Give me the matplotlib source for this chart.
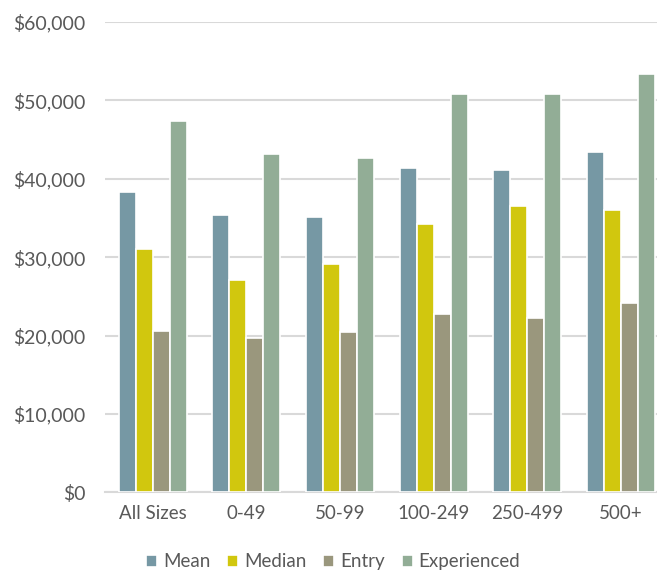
import matplotlib
matplotlib.use("Agg")
import matplotlib.pyplot as plt
import numpy as np
from matplotlib.ticker import FuncFormatter

categories = ["All Sizes", "0-49", "50-99", "100-249", "250-499", "500+"]
mean = [38300, 35400, 35100, 41400, 41100, 43400]
median = [31000, 27100, 29100, 34200, 36500, 36000]
entry = [20600, 19700, 20400, 22700, 22200, 24100]
experienced = [47400, 43200, 42700, 50800, 50800, 53400]

series = [("Mean", mean, "#7698A4"),
          ("Median", median, "#D1C70E"),
          ("Entry", entry, "#9A977D"),
          ("Experienced", experienced, "#92AD96")]

plt.rcParams['font.family'] = ['Lato', 'DejaVu Sans']

fig = plt.figure(figsize=(6.57, 5.71), dpi=100)
ax = fig.add_axes([0.16, 0.1378, 0.856, 0.8237])

x = np.arange(len(categories))
step = 0.182
for i, (name, vals, col) in enumerate(series):
    ax.bar(x + (i - 1.5) * step, vals, width=step, color=col,
           edgecolor="white", linewidth=1.2, label=name, zorder=3)

ax.set_ylim(0, 60000)
ax.set_xlim(-0.51, 5.5)
ax.set_yticks(np.arange(0, 60001, 10000))
ax.yaxis.set_major_formatter(FuncFormatter(lambda v, p: "${:,.0f}".format(v)))
ax.set_xticks(x)
ax.set_xticklabels(categories)
ax.grid(axis="y", color="#D9D9D9", linewidth=1.5, zorder=0)
for s in ["top", "right", "left"]:
    ax.spines[s].set_visible(False)
ax.spines["bottom"].set_color("#D9D9D9")
ax.spines["bottom"].set_linewidth(1.5)
ax.tick_params(axis="y", length=0, labelsize=14, colors="#595959", pad=14)
ax.tick_params(axis="x", length=0, labelsize=13.5, colors="#595959", pad=9)

fig.legend(loc="center", bbox_to_anchor=(0.507, 0.016), ncol=4, frameon=False,
           fontsize=13.5, labelcolor="#595959", handlelength=0.6, handleheight=0.6,
           handletextpad=0.3, columnspacing=0.9)

fig.savefig("out.png", dpi=100)
